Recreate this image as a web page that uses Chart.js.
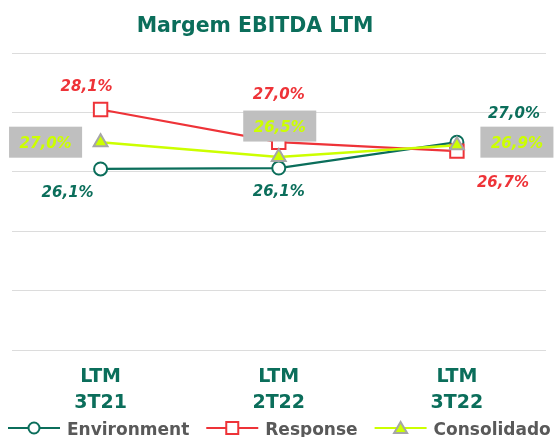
<!DOCTYPE html>
<html>
<head>
<meta charset="utf-8">
<script src="https://cdn.jsdelivr.net/npm/chart.js@4.4.1/dist/chart.umd.min.js"></script>
<style>
  html, body { margin: 0; padding: 0; background: #ffffff; }
  #wrap { width: 560px; height: 437px; position: relative; }
</style>
</head>
<body>
<div id="wrap"><canvas id="c" width="560" height="437"></canvas></div>
<script>
// ---- data ----
const titleText = 'Margem EBITDA LTM';
const categories = [['LTM', '3T21'], ['LTM', '2T22'], ['LTM', '3T22']];
const seriesNames = ['Environment', 'Response', 'Consolidado'];
const environment = [26.1, 26.13, 27.0];
const response = [28.1, 27.0, 26.7];
const consolidado = [27.0, 26.5, 26.9];
const yTicks = [20, 22, 24, 26, 28, 30];

// ---- styles ----
const GREEN = '#0b6e5b';
const RED = '#ee3338';
const LIME = '#ccff00';
const GREY_BORDER = '#a6a6a6';
const FONT = '"DejaVu Sans", sans-serif';

// label offsets (px) relative to each point
const labelOffsets = [
  [[-33, 23], [0, 22], [57, -30]],
  [[-14, -23.5], [0, -48.5], [46, 30]],
  [[-55, 0], [1, -31], [60, -3]]
];
const boxedLabels = [false, false, true];
const labelColors = [GREEN, RED, LIME];

function fmt(v) { return v.toFixed(1).replace('.', ',') + '%'; }

const labelPlugin = {
  id: 'valueLabels',
  afterDatasetsDraw(chart) {
    const ctx = chart.ctx;
    ctx.save();
    ctx.font = 'italic bold 15px ' + FONT;
    ctx.textAlign = 'center';
    ctx.textBaseline = 'alphabetic';
    chart.data.datasets.forEach((ds, i) => {
      const meta = chart.getDatasetMeta(i);
      meta.data.forEach((pt, j) => {
        const off = labelOffsets[i][j];
        const cx = pt.x + off[0], cy = pt.y + off[1];
        const txt = fmt(ds.data[j]);
        if (boxedLabels[i]) {
          const w = ctx.measureText(txt).width + 21;
          const h = 31;
          ctx.fillStyle = '#bfbfbf';
          ctx.fillRect(cx - w / 2, cy - h / 2, w, h);
        }
        ctx.fillStyle = labelColors[i];
        ctx.fillText(txt, cx, cy + 5.5);
      });
    });
    ctx.restore();
  },
  afterDraw(chart) {
    const ctx = chart.ctx;
    ctx.save();
    // title
    ctx.font = 'bold 20.5px ' + FONT;
    ctx.fillStyle = GREEN;
    ctx.textAlign = 'center';
    ctx.textBaseline = 'alphabetic';
    ctx.fillText(titleText, 255, 32);
    // legend
    ctx.font = 'bold 17px ' + FONT;
    ctx.textAlign = 'left';
    let x = 8;
    const y = 428;
    chart.data.datasets.forEach((ds, i) => {
      ctx.strokeStyle = ds.borderColor;
      ctx.lineWidth = 2;
      ctx.beginPath();
      ctx.moveTo(x, y);
      ctx.lineTo(x + 52, y);
      ctx.stroke();
      const mx = x + 26;
      ctx.lineWidth = 2;
      ctx.strokeStyle = ds.pointBorderColor;
      ctx.fillStyle = ds.pointBackgroundColor;
      ctx.beginPath();
      if (ds.pointStyle === 'circle') {
        ctx.arc(mx, y, 5.5, 0, Math.PI * 2);
      } else if (ds.pointStyle === 'rect') {
        ctx.rect(mx - 6, y - 6, 12, 12);
      } else {
        ctx.moveTo(mx, y - 6);
        ctx.lineTo(mx + 6.5, y + 5);
        ctx.lineTo(mx - 6.5, y + 5);
        ctx.closePath();
      }
      ctx.fill();
      ctx.stroke();
      ctx.fillStyle = '#595959';
      ctx.fillText(ds.label, x + 59, y + 6.5);
      x += 59 + ctx.measureText(ds.label).width + 17;
    });
    ctx.restore();
  }
};

new Chart(document.getElementById('c'), {
  type: 'line',
  data: {
    labels: categories,
    datasets: [
      {
        label: seriesNames[0], data: environment,
        borderColor: GREEN, borderWidth: 2.2,
        pointStyle: 'circle', pointRadius: 6.5, pointBorderWidth: 2,
        pointBackgroundColor: '#ffffff', pointBorderColor: GREEN,
        order: 3
      },
      {
        label: seriesNames[1], data: response,
        borderColor: RED, borderWidth: 2.2,
        pointStyle: 'rect', pointRadius: 9.5, pointBorderWidth: 2,
        pointBackgroundColor: '#ffffff', pointBorderColor: RED,
        order: 2
      },
      {
        label: seriesNames[2], data: consolidado,
        borderColor: LIME, borderWidth: 2.5,
        pointStyle: 'triangle', pointRadius: 8, pointBorderWidth: 2,
        pointBackgroundColor: LIME, pointBorderColor: GREY_BORDER,
        order: 1
      }
    ]
  },
  options: {
    responsive: false,
    animation: false,
    devicePixelRatio: 1,
    layout: { padding: { left: 10, right: 14, top: 53, bottom: 7.5 } },
    plugins: {
      legend: { display: false },
      title: { display: false },
      tooltip: { enabled: false }
    },
    elements: { line: { tension: 0 } },
    scales: {
      x: {
        offset: true,
        grid: { display: false, drawTicks: false },
        border: { display: false },
        ticks: {
          color: GREEN,
          padding: 13,
          maxRotation: 0,
          font: { family: FONT, size: 19, weight: 'bold', lineHeight: 1.4 }
        }
      },
      y: {
        min: yTicks[0], max: yTicks[yTicks.length - 1],
        afterBuildTicks(scale) { scale.ticks = yTicks.map(v => ({ value: v })); },
        grid: { color: '#dcdcdc', lineWidth: 1, drawTicks: false },
        border: { display: false },
        ticks: { display: false }
      }
    }
  },
  plugins: [labelPlugin]
});
</script>
</body>
</html>
